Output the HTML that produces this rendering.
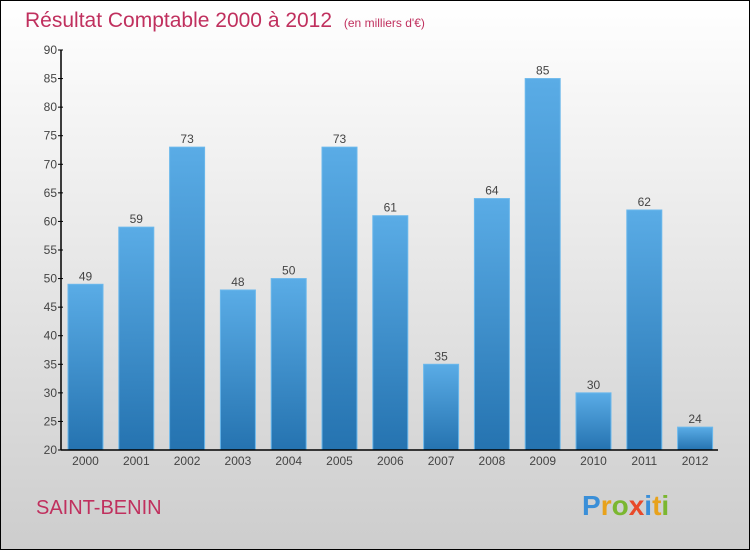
<!DOCTYPE html>
<html><head><meta charset="utf-8"><style>
body{margin:0}
#wrap{position:relative;width:750px;height:550px;overflow:hidden;font-family:"Liberation Sans",sans-serif}
</style></head><body>
<div id="wrap">
<svg id="chart" width="750" height="550" xmlns="http://www.w3.org/2000/svg">
<defs>
<linearGradient id="bg" x1="0" y1="0" x2="0" y2="1"><stop offset="0" stop-color="#ffffff"/><stop offset="1" stop-color="#cdcdcd"/></linearGradient>
<linearGradient id="bar" x1="0" y1="0" x2="0" y2="1"><stop offset="0" stop-color="#5aace6"/><stop offset="1" stop-color="#2573b0"/></linearGradient>
</defs>
<rect x="0.5" y="0.5" width="749" height="549" fill="url(#bg)" stroke="#000"/>
<text x="25" y="27" font-size="21" fill="#c0305e">Résultat Comptable 2000 à 2012 <tspan font-size="12" dx="6">(en milliers d'€)</tspan></text>
<g id="bars"></g>
<g id="axes"></g>
<text x="36" y="514" font-size="20" fill="#c0305e">SAINT-BENIN</text>
<text x="582" y="515" font-size="28" font-weight="bold"><tspan fill="#3a8fd8">P</tspan><tspan fill="#e8a21b">r</tspan><tspan fill="#7bb730">o</tspan><tspan fill="#e84a2a">x</tspan><tspan fill="#3a8fd8">i</tspan><tspan fill="#e8a21b">t</tspan><tspan fill="#7bb730">i</tspan></text>
</svg>
</div>
<script>
const categories=["2000","2001","2002","2003","2004","2005","2006","2007","2008","2009","2010","2011","2012"];
const values=[49,59,73,48,50,73,61,35,64,85,30,62,24];
const yTicks=[20,25,30,35,40,45,50,55,60,65,70,75,80,85,90];
const NS="http://www.w3.org/2000/svg";
const yMin=20,yMax=90,plotTop=50,plotBot=450,axisX=61;
function y(v){return plotBot-(v-yMin)/(yMax-yMin)*(plotBot-plotTop);}
function xc(i){return 85.5+i*50.8;}
function mk(t,a,p){const e=document.createElementNS(NS,t);for(const k in a)e.setAttribute(k,a[k]);p.appendChild(e);return e;}
const bars=document.getElementById('bars'),axes=document.getElementById('axes');
values.forEach((v,i)=>{
 const r=mk('rect',{x:xc(i)-17.5,y:y(v),width:35,height:plotBot-y(v),fill:'url(#bar)',stroke:'#6bb8ec','stroke-width':1},bars);
 
 
 const t=mk('text',{x:xc(i),y:y(v)-4,'text-anchor':'middle','font-size':12,fill:'#444'},bars);
 t.textContent=v;
 
 
 const c=mk('text',{x:xc(i),y:plotBot+15,'text-anchor':'middle','font-size':12,fill:'#444'},axes);
 c.textContent=categories[i];
 
 
});
const ya=mk('line',{x1:axisX,y1:plotTop,x2:axisX,y2:plotBot,stroke:'#000','stroke-width':1.5},axes);


const xa=mk('line',{x1:axisX,y1:plotBot,x2:718,y2:plotBot,stroke:'#000','stroke-width':1.5},axes);


yTicks.forEach(v=>{
 mk('line',{x1:axisX-3,y1:y(v),x2:axisX+2,y2:y(v),stroke:'#000'},axes);
 const t=mk('text',{x:axisX-4,y:y(v)+4,'text-anchor':'end','font-size':12,fill:'#444'},axes);
 t.textContent=v;
 
 
});
</script>
</body></html>
